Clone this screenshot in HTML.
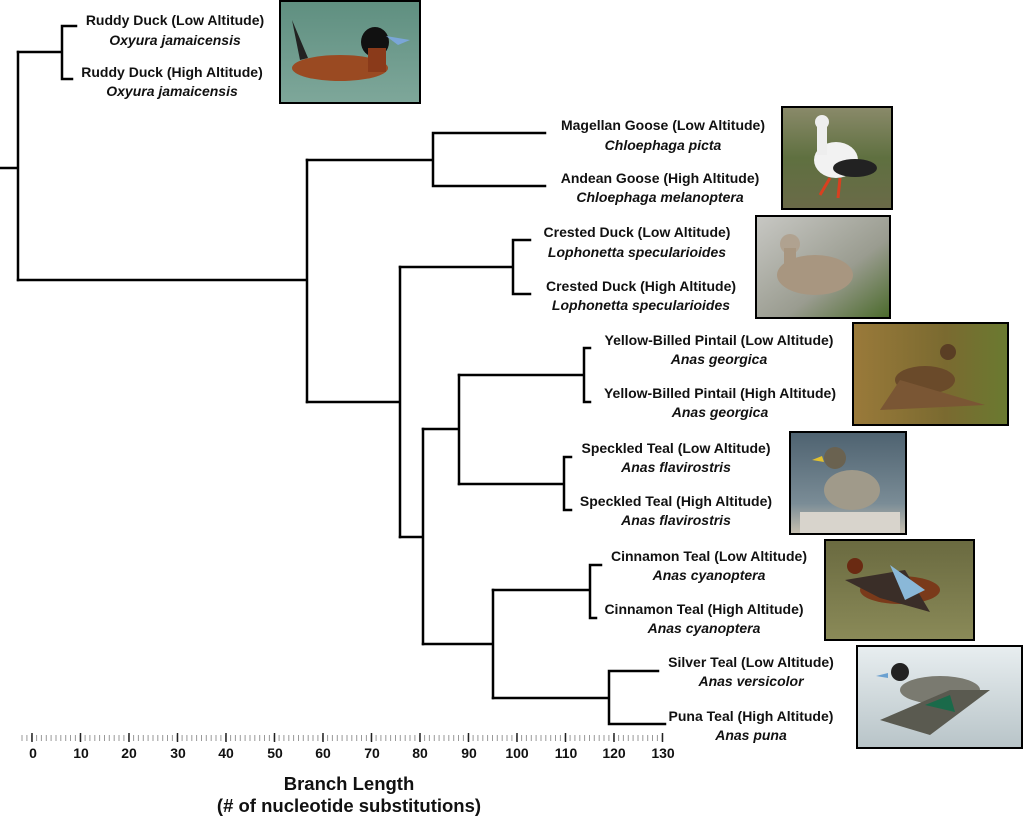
<!DOCTYPE html>
<html><head><meta charset="utf-8"><style>
html,body{margin:0;padding:0;background:#fff;}
svg{display:block}
text{font-family:"Liberation Sans",Arial,sans-serif;font-weight:bold;fill:#111;}
.n{font-size:14px}
.i{font-size:14px;font-style:italic}
.ax{font-size:14px}
.t{font-size:18.5px}
</style></head><body>
<svg width="1024" height="818" viewBox="0 0 1024 818" xmlns="http://www.w3.org/2000/svg">
<defs>
<linearGradient id="water" x1="0" y1="0" x2="0" y2="1"><stop offset="0" stop-color="#5f8f80"/><stop offset="1" stop-color="#7ea79a"/></linearGradient>
<linearGradient id="grass" x1="0" y1="0" x2="0" y2="1"><stop offset="0" stop-color="#8a8a6a"/><stop offset="0.5" stop-color="#5f7040"/><stop offset="1" stop-color="#6a6a48"/></linearGradient>
<linearGradient id="rock" x1="0" y1="0" x2="1" y2="1"><stop offset="0" stop-color="#c8c8c4"/><stop offset="0.6" stop-color="#9a9c90"/><stop offset="1" stop-color="#4a6a2a"/></linearGradient>
<linearGradient id="reed" x1="0" y1="0" x2="1" y2="0"><stop offset="0" stop-color="#9a7a3a"/><stop offset="0.6" stop-color="#7a6a30"/><stop offset="1" stop-color="#6a7a30"/></linearGradient>
<linearGradient id="sky" x1="0" y1="0" x2="0" y2="1"><stop offset="0" stop-color="#4e6270"/><stop offset="0.7" stop-color="#7a8c96"/><stop offset="1" stop-color="#c8c0b0"/></linearGradient>
<linearGradient id="olive" x1="0" y1="0" x2="0" y2="1"><stop offset="0" stop-color="#6a6a40"/><stop offset="1" stop-color="#8a8a58"/></linearGradient>
<linearGradient id="snow" x1="0" y1="0" x2="0" y2="1"><stop offset="0" stop-color="#e8eef0"/><stop offset="1" stop-color="#b8c4c8"/></linearGradient>
</defs>

<g stroke="#000" stroke-width="2.5" fill="none" stroke-linecap="square">
<path d="M0 168H18M18 52V280"/>
<path d="M18 52H62M62 26V79M62 26H76M62 79H72"/>
<path d="M18 280H307M307 160V402"/>
<path d="M307 160H433M433 133V186M433 133H545M433 186H545"/>
<path d="M307 402H400M400 267V537"/>
<path d="M400 267H513M513 240V294M513 240H530M513 294H530"/>
<path d="M400 537H423M423 429V644"/>
<path d="M423 429H459M459 375V484"/>
<path d="M459 375H584M584 348V402M584 348H590M584 402H590"/>
<path d="M459 484H564M564 457V510M564 457H571M564 510H571"/>
<path d="M423 644H493M493 590V698"/>
<path d="M493 590H590M590 565V618M590 565H601M590 618H596"/>
<path d="M493 698H609M609 671V724M609 671H658M609 724H665"/>
</g>

<g stroke="#999" stroke-width="1">
<path d="
M22 735V741M26.9 735V741M31.7 735V741M36.6 735V741M41.4 735V741M46.3 735V741M51.1 735V741M56 735V741M60.8 735V741M65.7 735V741M70.5 735V741M75.4 735V741M80.2 735V741M85.1 735V741M89.9 735V741M94.8 735V741M99.6 735V741M104.5 735V741M109.3 735V741M114.2 735V741M119 735V741M123.9 735V741M128.7 735V741M133.6 735V741M138.4 735V741M143.3 735V741M148.1 735V741M153 735V741M157.8 735V741M162.7 735V741M167.5 735V741M172.4 735V741M177.2 735V741M182.1 735V741M186.9 735V741M191.8 735V741M196.6 735V741M201.5 735V741M206.3 735V741M211.2 735V741M216 735V741M220.9 735V741M225.7 735V741M230.6 735V741M235.4 735V741M240.3 735V741M245.1 735V741M250 735V741M254.8 735V741M259.7 735V741M264.5 735V741M269.4 735V741M274.2 735V741M279.1 735V741M283.9 735V741M288.8 735V741M293.6 735V741M298.5 735V741M303.3 735V741M308.2 735V741M313 735V741M317.9 735V741M322.7 735V741M327.6 735V741M332.4 735V741M337.3 735V741M342.1 735V741M347 735V741M351.8 735V741M356.7 735V741M361.5 735V741M366.4 735V741M371.2 735V741M376.1 735V741M380.9 735V741M385.8 735V741M390.6 735V741M395.5 735V741M400.3 735V741M405.2 735V741M410 735V741M414.9 735V741M419.7 735V741M424.6 735V741M429.4 735V741M434.3 735V741M439.1 735V741M444 735V741M448.8 735V741M453.7 735V741M458.5 735V741M463.4 735V741M468.2 735V741M473.1 735V741M477.9 735V741M482.8 735V741M487.6 735V741M492.5 735V741M497.3 735V741M502.2 735V741M507 735V741M511.9 735V741M516.7 735V741M521.6 735V741M526.4 735V741M531.3 735V741M536.1 735V741M541 735V741M545.8 735V741M550.7 735V741M555.5 735V741M560.4 735V741M565.2 735V741M570.1 735V741M574.9 735V741M579.8 735V741M584.6 735V741M589.5 735V741M594.3 735V741M599.2 735V741M604 735V741M608.9 735V741M613.7 735V741M618.6 735V741M623.4 735V741M628.3 735V741M633.1 735V741M638 735V741M642.8 735V741M647.7 735V741M652.5 735V741M657.4 735V741M662.2 735V741"/>
</g>
<g stroke="#222" stroke-width="1.5">
<path d="M32 733V742M80.5 733V742M129 733V742M177.5 733V742M226 733V742M274.5 733V742M323 733V742M371.5 733V742M420 733V742M468.5 733V742M517 733V742M565.5 733V742M614 733V742M662.5 733V742"/>
</g>
<g text-anchor="middle">
<text x="33" y="758" class="ax">0</text><text x="81" y="758" class="ax">10</text><text x="129" y="758" class="ax">20</text><text x="178" y="758" class="ax">30</text><text x="226" y="758" class="ax">40</text><text x="275" y="758" class="ax">50</text><text x="323" y="758" class="ax">60</text><text x="372" y="758" class="ax">70</text><text x="420" y="758" class="ax">80</text><text x="469" y="758" class="ax">90</text><text x="517" y="758" class="ax">100</text><text x="566" y="758" class="ax">110</text><text x="614" y="758" class="ax">120</text><text x="663" y="758" class="ax">130</text>
</g>
<text x="349" y="790" text-anchor="middle" class="t">Branch Length</text>
<text x="349" y="812" text-anchor="middle" class="t">(# of nucleotide substitutions)</text>

<g text-anchor="middle">
<text x="175" y="25" class="n">Ruddy Duck (Low Altitude)</text>
<text x="175" y="45" class="i">Oxyura jamaicensis</text>
<text x="172" y="77" class="n">Ruddy Duck (High Altitude)</text>
<text x="172" y="96" class="i">Oxyura jamaicensis</text>

<text x="663" y="130" class="n">Magellan Goose (Low Altitude)</text>
<text x="663" y="150" class="i">Chloephaga picta</text>
<text x="660" y="183" class="n">Andean Goose (High Altitude)</text>
<text x="660" y="202" class="i">Chloephaga melanoptera</text>

<text x="637" y="237" class="n">Crested Duck (Low Altitude)</text>
<text x="637" y="257" class="i">Lophonetta specularioides</text>
<text x="641" y="291" class="n">Crested Duck (High Altitude)</text>
<text x="641" y="310" class="i">Lophonetta specularioides</text>

<text x="719" y="345" class="n">Yellow-Billed Pintail (Low Altitude)</text>
<text x="719" y="364" class="i">Anas georgica</text>
<text x="720" y="398" class="n">Yellow-Billed Pintail (High Altitude)</text>
<text x="720" y="417" class="i">Anas georgica</text>

<text x="676" y="453" class="n">Speckled Teal (Low Altitude)</text>
<text x="676" y="472" class="i">Anas flavirostris</text>
<text x="676" y="506" class="n">Speckled Teal (High Altitude)</text>
<text x="676" y="525" class="i">Anas flavirostris</text>

<text x="709" y="561" class="n">Cinnamon Teal (Low Altitude)</text>
<text x="709" y="580" class="i">Anas cyanoptera</text>
<text x="704" y="614" class="n">Cinnamon Teal (High Altitude)</text>
<text x="704" y="633" class="i">Anas cyanoptera</text>

<text x="751" y="667" class="n">Silver Teal (Low Altitude)</text>
<text x="751" y="686" class="i">Anas versicolor</text>
<text x="751" y="721" class="n">Puna Teal (High Altitude)</text>
<text x="751" y="740" class="i">Anas puna</text>
</g>

<g stroke="#000" stroke-width="2">
<rect x="280" y="1" width="140" height="102" fill="url(#water)"/>
<rect x="782" y="107" width="110" height="102" fill="url(#grass)"/>
<rect x="756" y="216" width="134" height="102" fill="url(#rock)"/>
<rect x="853" y="323" width="155" height="102" fill="url(#reed)"/>
<rect x="790" y="432" width="116" height="102" fill="url(#sky)"/>
<rect x="825" y="540" width="149" height="100" fill="url(#olive)"/>
<rect x="857" y="646" width="165" height="102" fill="url(#snow)"/>
</g>
<g stroke="none">
<ellipse cx="340" cy="68" rx="48" ry="13" fill="#9a4a22"/>
<ellipse cx="375" cy="42" rx="14" ry="15" fill="#111"/>
<rect x="368" y="48" width="18" height="24" fill="#8a3a1a"/>
<polygon points="386,36 410,40 398,45" fill="#7aa6d8"/>
<polygon points="292,20 300,60 308,58" fill="#222"/>
<ellipse cx="836" cy="160" rx="22" ry="18" fill="#f2f2f2"/>
<ellipse cx="855" cy="168" rx="22" ry="9" fill="#222"/>
<rect x="817" y="120" width="10" height="35" fill="#eee"/>
<circle cx="822" cy="122" r="7" fill="#eee"/>
<path d="M830 178 L820 195 M840 178 L838 198" stroke="#d84020" stroke-width="3"/>
<ellipse cx="815" cy="275" rx="38" ry="20" fill="#a89680"/>
<circle cx="790" cy="244" r="10" fill="#b0a290"/>
<rect x="784" y="248" width="12" height="22" fill="#a89680"/>
<ellipse cx="925" cy="380" rx="30" ry="14" fill="#6a4a2a"/>
<polygon points="900,380 880,410 985,405" fill="#7a5634"/>
<circle cx="948" cy="352" r="8" fill="#5a3e24"/>
<ellipse cx="852" cy="490" rx="28" ry="20" fill="#a09a8a"/>
<circle cx="835" cy="458" r="11" fill="#6a6250"/>
<polygon points="822,456 812,460 824,462" fill="#e0c030"/>
<rect x="800" y="512" width="100" height="21" fill="#d8d4cc"/>
<ellipse cx="900" cy="590" rx="40" ry="14" fill="#7a3a1a"/>
<polygon points="845,580 905,570 930,612 880,598" fill="#3a2e28"/>
<polygon points="890,565 925,590 905,600" fill="#8ab8d8"/>
<circle cx="855" cy="566" r="8" fill="#6a2a12"/>
<ellipse cx="940" cy="690" rx="40" ry="14" fill="#7a7a70"/>
<polygon points="880,720 950,690 990,690 930,735" fill="#5a5a50"/>
<polygon points="925,705 950,695 955,712" fill="#1a6a4a"/>
<circle cx="900" cy="672" r="9" fill="#222"/>
<polygon points="888,673 876,676 888,678" fill="#6aa0d0"/>
</g>
</svg>
</body></html>
